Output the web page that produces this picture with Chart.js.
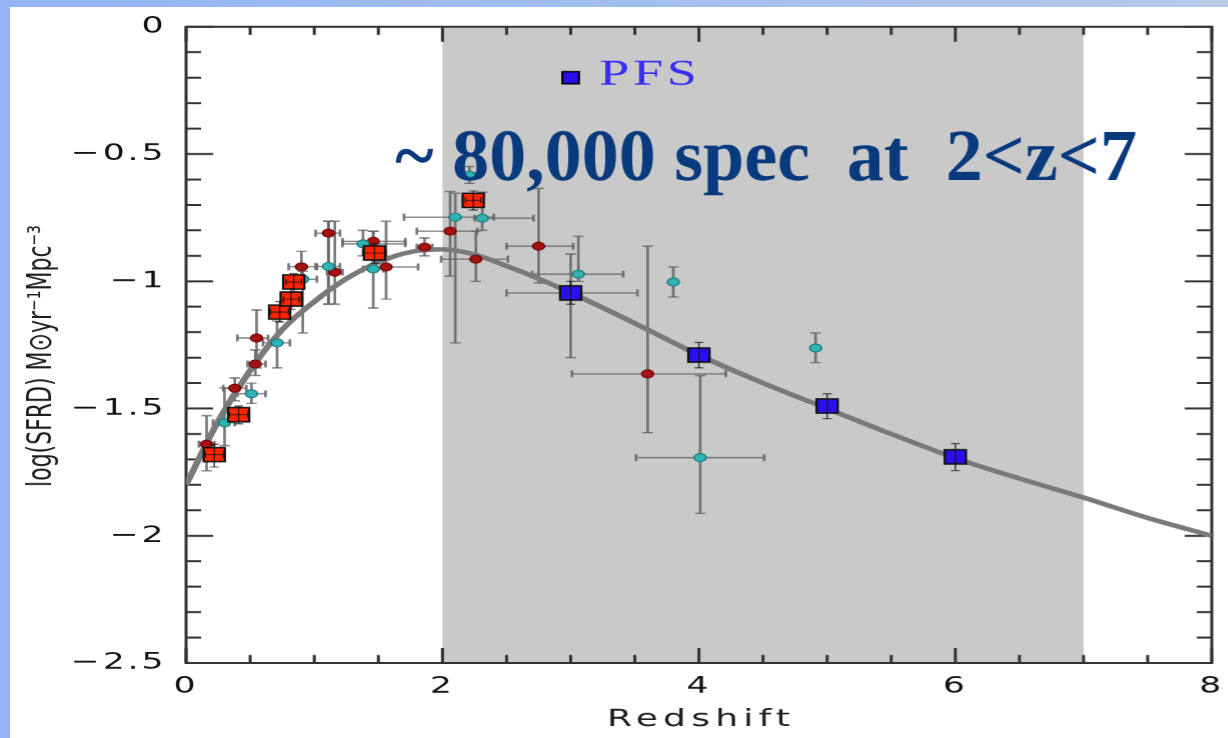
<!DOCTYPE html>
<html>
<head>
<meta charset="utf-8">
<script src="https://cdn.jsdelivr.net/npm/chart.js@4.4.1/dist/chart.umd.min.js"></script>
<style>
    html, body { margin: 0; padding: 0; }
    body {
        width: 1228px; height: 738px; overflow: hidden; position: relative;
        background: linear-gradient(90deg, #93b3f3 0%, #a3bff0 55%, #b5cae8 100%);
    }
    #panel { position: absolute; left: 10px; top: 7px; right: 0; bottom: 0; background: #fff; }
    /* the source image is stretched sideways, so the chart is drawn narrow and widened */
    #wrap { position: absolute; left: 0; top: 0; width: 819px; height: 738px; transform: scaleX(1.5); transform-origin: 0 0; }
</style>
</head>
<body>
<div id="panel"></div>
<div id="wrap"><canvas id="sfrdChart" width="819" height="738"></canvas></div>
<script>
// Axis ticks
const xTickValues = [0, 2, 4, 6, 8];
const xTickLabels = ['0', '2', '4', '6', '8'];
const yTickValues = [-2.5, -2, -1.5, -1, -0.5, 0];
const yTickLabels = ['\u22122.5', '\u22122', '\u22121.5', '\u22121', '\u22120.5', '0'];
const xTitle = 'Redshift';
const yTitle = 'log(SFRD) M\u2299yr\u207B\u00B9Mpc\u207B\u00B3';

// PFS redshift window
const shadeRange = [2, 7];

// Fitted SFRD curve
const fitZ = [0, 0.25, 0.5, 0.75, 1.0, 1.25, 1.5, 1.75, 2.0, 2.25, 2.5, 2.75, 3.0, 3.5, 4.0, 4.5, 5.0, 5.5, 6.0, 6.5, 7.0, 7.5, 8.0];
const fitY = [-1.80, -1.55, -1.35, -1.19, -1.08, -0.99, -0.925, -0.885, -0.875, -0.895, -0.94, -0.99, -1.045, -1.165, -1.29, -1.40, -1.50, -1.60, -1.695, -1.775, -1.85, -1.93, -2.00];

// Literature points, dark red
const redDotZ   = [0.16, 0.38, 0.54, 0.55, 0.90, 1.11, 1.16, 1.46, 1.56, 1.86, 2.06, 2.26, 2.75, 3.60];
const redDotY   = [-1.64, -1.42, -1.325, -1.223, -0.943, -0.811, -0.964, -0.843, -0.944, -0.866, -0.803, -0.913, -0.862, -1.364];
const redDotZLo = [0.10, 0.29, 0.48, 0.40, 0.80, 1.01, 1.10, 1.22, 1.45, 1.80, 1.80, 1.99, 2.50, 3.01];
const redDotZHi = [0.22, 0.47, 0.62, 0.64, 1.02, 1.20, 1.22, 1.71, 1.81, 1.92, 2.27, 2.51, 3.02, 4.21];
const redDotYLo = [-1.745, -1.47, -1.37, -1.34, -1.00, -1.09, -1.09, -0.95, -1.07, -0.90, -0.98, -1.00, -1.007, -1.595];
const redDotYHi = [-1.528, -1.38, -1.27, -1.113, -0.882, -0.764, -0.764, -0.803, -0.764, -0.83, -0.647, -0.803, -0.635, -0.862];

// Literature points, cyan
const cyanDotZ   = [0.30, 0.51, 0.71, 0.91, 1.11, 1.38, 1.46, 2.10, 2.31, 2.21, 3.06, 3.00, 3.80, 4.01, 4.91];
const cyanDotY   = [-1.556, -1.442, -1.242, -0.992, -0.942, -0.853, -0.952, -0.748, -0.752, -0.584, -0.972, -1.046, -1.003, -1.693, -1.262];
const cyanDotZLo = [0.21, 0.40, 0.60, 0.80, 1.01, 1.22, 1.38, 1.70, 2.25, 2.17, 2.70, 2.50, 3.78, 3.51, 4.89];
const cyanDotZHi = [0.38, 0.62, 0.81, 1.02, 1.20, 1.71, 1.54, 2.40, 2.71, 2.25, 3.41, 3.52, 3.82, 4.51, 4.93];
const cyanDotYLo = [-1.646, -1.48, -1.34, -1.203, -1.09, -0.90, -1.105, -1.242, -0.80, -0.615, -1.00, -1.30, -1.062, -1.912, -1.32];
const cyanDotYHi = [-1.419, -1.40, -1.156, -0.96, -0.764, -0.80, -0.803, -0.654, -0.65, -0.549, -0.823, -0.893, -0.944, -1.371, -1.203];

// Red squares
const redSqZ   = [0.22, 0.41, 0.73, 0.82, 0.84, 1.47, 2.24];
const redSqY   = [-1.681, -1.524, -1.121, -1.070, -1.003, -0.889, -0.682];
const redSqZLo = [0.15, 0.34, 0.66, 0.76, 0.78, 1.38, 2.18];
const redSqZHi = [0.29, 0.48, 0.80, 0.88, 0.90, 1.56, 2.30];
const redSqYLo = [-1.73, -1.56, -1.16, -1.11, -1.04, -0.93, -0.72];
const redSqYHi = [-1.64, -1.49, -1.08, -1.03, -0.97, -0.85, -0.645];

// PFS forecast
const pfsZ   = [3, 4, 5, 6];
const pfsY   = [-1.046, -1.29, -1.49, -1.69];
const pfsYLo = [-1.09, -1.34, -1.54, -1.744];
const pfsYHi = [-1.00, -1.24, -1.442, -1.638];

const S = 1.5; // horizontal stretch of the page

function toPoints(zs, ys) {
    return zs.map((z, i) => ({ x: z, y: ys[i] }));
}

// Helper to draw error bars through the scales
function drawErrors(ctx, xs, ys, set, style) {
    ctx.save();
    ctx.strokeStyle = style.color;
    for (let i = 0; i < set.z.length; i++) {
        const px = xs.getPixelForValue(set.z[i]);
        const py = ys.getPixelForValue(set.y[i]);
        if (set.yLo) {
            const top = ys.getPixelForValue(set.yHi[i]);
            const bot = ys.getPixelForValue(set.yLo[i]);
            ctx.lineWidth = style.vWidth;
            ctx.beginPath();
            ctx.moveTo(px, top); ctx.lineTo(px, bot);
            ctx.stroke();
            ctx.lineWidth = style.hWidth;
            ctx.beginPath();
            ctx.moveTo(px - style.cap, top); ctx.lineTo(px + style.cap, top);
            ctx.moveTo(px - style.cap, bot); ctx.lineTo(px + style.cap, bot);
            ctx.stroke();
        }
        if (set.zLo) {
            const left = xs.getPixelForValue(set.zLo[i]);
            const right = xs.getPixelForValue(set.zHi[i]);
            ctx.lineWidth = style.hWidth;
            ctx.beginPath();
            ctx.moveTo(left, py); ctx.lineTo(right, py);
            ctx.stroke();
            ctx.lineWidth = style.vWidth;
            ctx.beginPath();
            ctx.moveTo(left, py - style.cap); ctx.lineTo(left, py + style.cap);
            ctx.moveTo(right, py - style.cap); ctx.lineTo(right, py + style.cap);
            ctx.stroke();
        }
    }
    ctx.restore();
}

const dotErrors = [
    { z: redDotZ, y: redDotY, zLo: redDotZLo, zHi: redDotZHi, yLo: redDotYLo, yHi: redDotYHi },
    { z: cyanDotZ, y: cyanDotY, zLo: cyanDotZLo, zHi: cyanDotZHi, yLo: cyanDotYLo, yHi: cyanDotYHi }
];
const squareErrors = [
    { z: redSqZ, y: redSqY, zLo: redSqZLo, zHi: redSqZHi, yLo: redSqYLo, yHi: redSqYHi },
    { z: pfsZ, y: pfsY, yLo: pfsYLo, yHi: pfsYHi }
];

const framePlugin = {
    id: 'frame',
    beforeDraw(chart) {
        const { ctx, chartArea: a, scales: { x } } = chart;
        ctx.save();
        ctx.fillStyle = '#c9c9c9';
        const x0 = x.getPixelForValue(shadeRange[0]);
        const x1 = x.getPixelForValue(shadeRange[1]);
        ctx.fillRect(x0, a.top, x1 - x0, a.bottom - a.top);
        ctx.restore();
        ctx.letterSpacing = '2px';
    },
    beforeDatasetsDraw(chart) {
        const { ctx, chartArea: a, scales: { x, y } } = chart;
        ctx.save();
        ctx.strokeStyle = '#333';
        ctx.lineWidth = 2;
        ctx.beginPath();
        // minor ticks every 0.5 in z, 0.1 in log SFRD; majors at labelled values
        for (let k = 0; k <= 16; k++) {
            const px = x.getPixelForValue(k * 0.5);
            const len = (k % 4 === 0) ? 15 : 8;
            ctx.moveTo(px, a.bottom); ctx.lineTo(px, a.bottom - len);
            ctx.moveTo(px, a.top); ctx.lineTo(px, a.top + len);
        }
        for (let k = 0; k <= 25; k++) {
            const py = y.getPixelForValue(-k * 0.1);
            const len = (k % 5 === 0) ? 18 : 10;
            ctx.moveTo(a.left, py); ctx.lineTo(a.left + len, py);
            ctx.moveTo(a.right, py); ctx.lineTo(a.right - len, py);
        }
        ctx.stroke();
        ctx.strokeRect(a.left, a.top, a.right - a.left, a.bottom - a.top);
        ctx.restore();

        dotErrors.forEach(set => drawErrors(ctx, x, y, set, { color: 'rgba(100,100,100,0.85)', vWidth: 1.8, hWidth: 1.3, cap: 3.5 }));
    },
    afterDatasetsDraw(chart) {
        const { ctx, scales: { x, y } } = chart;
        squareErrors.forEach(set => drawErrors(ctx, x, y, set, { color: 'rgba(20,20,20,0.8)', vWidth: 1, hWidth: 1, cap: 3 }));
    },
    afterDraw(chart) {
        const { ctx, chartArea: a, scales: { x, y } } = chart;
        ctx.save();
        ctx.fillStyle = '#1e1e1e';
        ctx.font = '24px "DejaVu Sans"';
        ctx.textAlign = 'center';
        ctx.textBaseline = 'middle';
        ctx.letterSpacing = '3.5px';
        ctx.fillText(xTitle, (a.left + a.right) / 2 + 1.5, 720);
        ctx.letterSpacing = '0px';
        ctx.font = '22px "DejaVu Sans"';
        ctx.translate(28, 356);
        ctx.rotate(-Math.PI / 2);
        ctx.fillText(yTitle, 0, 0);
        ctx.restore();

        // PFS legend
        const lx = x.getPixelForValue(3.0);
        const ly = y.getPixelForValue(-0.2);
        ctx.save();
        ctx.fillStyle = '#2a10f0';
        ctx.strokeStyle = '#000';
        ctx.lineWidth = 1.5;
        ctx.fillRect(lx - 5.5, ly - 6, 11, 12);
        ctx.strokeRect(lx - 5.5, ly - 6, 11, 12);
        ctx.fillStyle = '#3a2ef0';
        ctx.font = '36px "Liberation Serif"';
        ctx.letterSpacing = '2.5px';
        ctx.textAlign = 'left';
        ctx.textBaseline = 'alphabetic';
        ctx.fillText('PFS', lx + 19, ly + 7);
        ctx.restore();

        // Annotation, drawn without the sideways stretch
        ctx.save();
        ctx.scale(1 / S, 1);
        ctx.letterSpacing = '0px';
        ctx.fillStyle = '#0a3a7e';
        ctx.font = 'bold 74px "Liberation Serif"';
        ctx.textAlign = 'left';
        ctx.textBaseline = 'alphabetic';
        ctx.fillText('~ 80,000 spec  at  2<z<7', 395, 180);
        ctx.restore();
    }
};

const tickFont = { family: 'DejaVu Sans', size: 23 };

new Chart(document.getElementById('sfrdChart'), {
    type: 'scatter',
    data: {
        datasets: [
            {
                label: 'fit',
                data: toPoints(fitZ, fitY),
                showLine: true,
                borderColor: '#7a7a7a',
                borderWidth: 4.5,
                pointRadius: 0,
                cubicInterpolationMode: 'monotone',
                order: 5
            },
            {
                label: 'red points',
                data: toPoints(redDotZ, redDotY),
                pointStyle: 'circle',
                pointRadius: 4,
                backgroundColor: '#a51212',
                borderColor: '#6e0a0a',
                borderWidth: 1,
                order: 4
            },
            {
                label: 'cyan points',
                data: toPoints(cyanDotZ, cyanDotY),
                pointStyle: 'circle',
                pointRadius: 4,
                backgroundColor: '#2fb3b3',
                borderColor: '#1b7a7a',
                borderWidth: 1,
                order: 3
            },
            {
                label: 'red squares',
                data: toPoints(redSqZ, redSqY),
                pointStyle: 'rect',
                pointRadius: 10,
                backgroundColor: '#ff2400',
                borderColor: '#111',
                borderWidth: 1.5,
                order: 2
            },
            {
                label: 'PFS',
                data: toPoints(pfsZ, pfsY),
                pointStyle: 'rect',
                pointRadius: 10,
                backgroundColor: '#2a10f0',
                borderColor: '#111',
                borderWidth: 1.5,
                order: 1
            }
        ]
    },
    options: {
        responsive: false,
        animation: false,
        devicePixelRatio: S,
        layout: { padding: { top: 25, right: 11, bottom: 0, left: 0 } },
        plugins: { legend: { display: false }, tooltip: { enabled: false } },
        scales: {
            x: {
                type: 'linear',
                min: 0,
                max: 8,
                afterBuildTicks: s => { s.ticks = xTickValues.map(v => ({ value: v })); },
                afterFit: s => { s.height = 75; s.paddingLeft = 0; s.paddingRight = 0; },
                grid: { display: false, drawTicks: false },
                border: { display: false },
                ticks: {
                    autoSkip: false,
                    maxRotation: 0,
                    padding: 10,
                    color: '#111',
                    font: tickFont,
                    callback: (v, i) => xTickLabels[i]
                }
            },
            y: {
                type: 'linear',
                min: -2.5,
                max: 0,
                afterBuildTicks: s => { s.ticks = yTickValues.map(v => ({ value: v })); },
                afterFit: s => { s.width = 124; },
                grid: { display: false, drawTicks: false },
                border: { display: false },
                ticks: {
                    autoSkip: false,
                    padding: 13,
                    color: '#111',
                    font: tickFont,
                    callback: (v, i) => yTickLabels[i]
                }
            }
        }
    },
    plugins: [framePlugin]
});
</script>
</body>
</html>
